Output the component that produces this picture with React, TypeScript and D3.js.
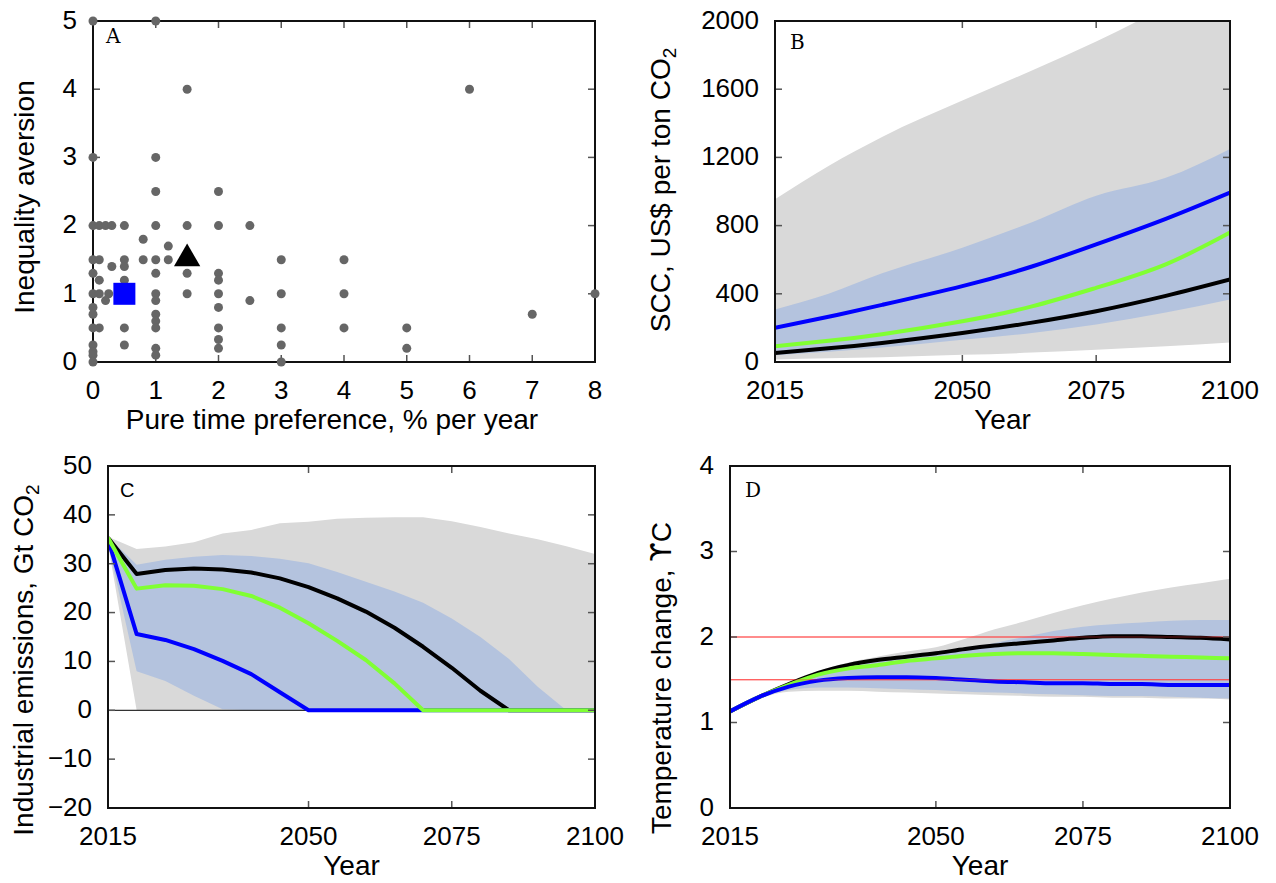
import React from 'react';
import * as d3 from 'd3';

// panel A: survey responses
const timePref = [0, 0, 0, 0, 0, 0, 0, 0, 0, 0, 0, 0, 0,
  0.1, 0.1, 0.1, 0.1, 0.1, 0.2, 0.2, 0.25, 0.3, 0.3,
  0.5, 0.5, 0.5, 0.5, 0.5, 0.5, 0.5, 0.8, 0.8,
  1, 1, 1, 1, 1, 1, 1, 1, 1, 1, 1, 1, 1,
  1.2, 1.2, 1.5, 1.5, 1.5, 1.5,
  2, 2, 2, 2, 2, 2, 2, 2, 2, 2.5, 2.5,
  3, 3, 3, 3, 3, 4, 4, 4, 5, 5, 6, 7, 8];
const ineqAversion = [5, 3, 2, 1.5, 1.3, 1.0, 0.8, 0.7, 0.5, 0.25, 0.15, 0.1, 0,
  2, 1.5, 1.2, 1.0, 0.5, 2, 0.9, 1.0, 2, 1.4,
  2, 1.5, 1.4, 1.2, 1.0, 0.5, 0.25, 1.8, 1.5,
  5, 3, 2.5, 2, 1.5, 1.3, 1.0, 0.9, 0.7, 0.6, 0.5, 0.2, 0.1,
  1.7, 1.5, 4, 2, 1.3, 1.0,
  2.5, 2, 1.3, 1.2, 1.0, 0.8, 0.5, 0.33, 0.2, 2, 0.9,
  1.5, 1.0, 0.5, 0.25, 0, 1.5, 1.0, 0.5, 0.5, 0.2, 4, 0.7, 1.0];
const medianPoint = [1.5, 1.5];
const rightsPoint = [0.5, 1.0];

// panel B: social cost of carbon
const yearsB = [2015, 2025, 2035, 2050, 2063, 2075, 2088, 2100];
const sccGrayHi = [955, 1150, 1320, 1533, 1710, 1880, 2080, 2250];
const sccGrayLo = [15, 22, 28, 42, 55, 72, 92, 115];
const sccBlueHi = [308, 400, 520, 670, 820, 975, 1080, 1250];
const sccBlueLo = [40, 60, 85, 130, 170, 220, 290, 367];
const sccBlue = [200, 265, 335, 445, 560, 690, 840, 994];
const sccGreen = [92, 124, 163, 239, 326, 435, 573, 759];
const sccBlack = [53, 80, 112, 170, 231, 298, 388, 484];

// panel C/D years
const years = [2015, 2020, 2025, 2030, 2035, 2040, 2045, 2050, 2055, 2060, 2065, 2070, 2075, 2080, 2085, 2090, 2095, 2100];

// panel C: industrial emissions
const emBlack = [35.3, 27.9, 28.7, 29.0, 28.8, 28.2, 27.0, 25.2, 22.9, 20.2, 16.9, 13.0, 8.7, 4.0, 0, 0, 0, 0];
const emGreen = [35.3, 24.9, 25.6, 25.5, 24.8, 23.4, 21.0, 17.8, 14.2, 10.3, 5.5, 0, 0, 0, 0, 0, 0, 0];
const emBlue = [35.0, 15.6, 14.4, 12.5, 10.1, 7.4, 3.7, 0, 0, 0, 0, 0, 0, 0, 0, 0, 0, 0];
const emGrayHi = [35.5, 33.0, 33.5, 34.4, 36.2, 36.9, 38.3, 38.6, 39.2, 39.4, 39.5, 39.5, 38.7, 37.5, 36.2, 35.0, 33.6, 32.0];
const emGrayLo = [34, 0, 0, 0, 0, 0, 0, 0, 0, 0, 0, 0, 0, 0, 0, 0, 0, 0];
const emBlueHi = [35.5, 29.8, 30.8, 31.4, 31.8, 31.6, 31.0, 30.1, 28.3, 26.3, 24.3, 22.0, 18.8, 15.0, 10.5, 4.8, 0, 0];
const emBlueLo = [34, 8.0, 6.0, 3.0, 0.2, 0, 0, 0, 0, 0, 0, 0, 0, 0, 0, 0, 0, 0];

// panel D: temperature change
const tBlack = [1.13, 1.30, 1.45, 1.58, 1.67, 1.73, 1.77, 1.81, 1.86, 1.90, 1.93, 1.96, 1.99, 2.01, 2.01, 2.00, 1.99, 1.97];
const tGreen = [1.13, 1.30, 1.44, 1.56, 1.63, 1.67, 1.72, 1.75, 1.78, 1.80, 1.81, 1.81, 1.80, 1.79, 1.78, 1.77, 1.76, 1.75];
const tBlue = [1.13, 1.30, 1.42, 1.49, 1.52, 1.53, 1.53, 1.52, 1.50, 1.48, 1.47, 1.46, 1.46, 1.45, 1.45, 1.44, 1.44, 1.44];
const tGrayHi = [1.13, 1.30, 1.45, 1.60, 1.70, 1.77, 1.83, 1.88, 1.98, 2.09, 2.18, 2.28, 2.37, 2.45, 2.52, 2.58, 2.63, 2.68];
const tGrayLo = [1.13, 1.28, 1.36, 1.37, 1.37, 1.36, 1.35, 1.34, 1.33, 1.32, 1.31, 1.30, 1.30, 1.29, 1.29, 1.28, 1.28, 1.27];
const tBlueHi = [1.13, 1.30, 1.44, 1.57, 1.66, 1.72, 1.76, 1.80, 1.86, 1.93, 2.00, 2.07, 2.12, 2.15, 2.17, 2.19, 2.20, 2.20];
const tBlueLo = [1.13, 1.29, 1.38, 1.41, 1.41, 1.40, 1.39, 1.38, 1.36, 1.35, 1.34, 1.33, 1.32, 1.31, 1.31, 1.30, 1.29, 1.28];
const targets = [2, 1.5];

const yearTicks = [2015, 2050, 2075, 2100];

const FONT = "'Liberation Sans', Arial, Helvetica, sans-serif";
const LETTER = "'DejaVu Serif', serif";
const GRAY = '#d9d9d9';
const BAND = '#b4c3de';
const BLUE = '#0000ff';
const GREEN = '#80ff33';

type Box = { left: number; right: number; top: number; bottom: number };

const Frame = ({ box, x, y, xTicks, yTicks, letter, letterFont, letterPos, xTitle, xTitleX, yTitle, yTitleX, yTitleY }: any) => {
  const tl = 7;
  return (
    <g>
      {xTicks.map((t: number) => (
        <g key={'x' + t}>
          <line x1={x(t)} x2={x(t)} y1={box.bottom} y2={box.bottom - tl} stroke="#555" strokeWidth={1.5} />
          <line x1={x(t)} x2={x(t)} y1={box.top} y2={box.top + tl} stroke="#555" strokeWidth={1.5} />
          <text x={x(t)} y={box.bottom + 37} textAnchor="middle" fontSize={26} fontFamily={FONT}>{t}</text>
        </g>
      ))}
      {yTicks.map((t: number) => (
        <g key={'y' + t}>
          <line x1={box.left} x2={box.left + tl} y1={y(t)} y2={y(t)} stroke="#555" strokeWidth={1.5} />
          <line x1={box.right} x2={box.right - tl} y1={y(t)} y2={y(t)} stroke="#555" strokeWidth={1.5} />
          <text x={box.left - 16} y={y(t)} dy="0.3em" textAnchor="end" fontSize={26} fontFamily={FONT}>
            {t < 0 ? '\u2212' + Math.abs(t) : t}
          </text>
        </g>
      ))}
      <rect x={box.left} y={box.top} width={box.right - box.left} height={box.bottom - box.top}
        fill="none" stroke="#111" strokeWidth={2} />
      <text x={box.left + letterPos[0]} y={box.top + letterPos[1]} fontSize={20} fontFamily={letterFont}>{letter}</text>
      <text x={xTitleX ?? (box.left + box.right) / 2} y={box.bottom + 67} textAnchor="middle" fontSize={28} fontFamily={FONT}>{xTitle}</text>
      <text transform={`translate(${yTitleX},${yTitleY}) rotate(-90)`} textAnchor="middle" fontSize={28} fontFamily={FONT}>{yTitle}</text>
    </g>
  );
};

const bandPath = (xs: number[], lo: number[], hi: number[], x: any, y: any, curve: any = d3.curveMonotoneX) =>
  d3.area<number>().x((_, i) => x(xs[i])).y0((_, i) => y(lo[i])).y1((_, i) => y(hi[i]))
    .curve(curve)(xs) as string;

const linePath = (xs: number[], vs: number[], x: any, y: any, curve: any = d3.curveMonotoneX) =>
  d3.line<number>().x((_, i) => x(xs[i])).y((_, i) => y(vs[i])).curve(curve)(xs) as string;

const clip = (id: string, box: Box) => (
  <clipPath id={id}>
    <rect x={box.left} y={box.top} width={box.right - box.left} height={box.bottom - box.top} />
  </clipPath>
);

const App = () => {
  const boxA: Box = { left: 93, right: 595, top: 21, bottom: 362 };
  const boxB: Box = { left: 775, right: 1230, top: 21, bottom: 362 };
  const boxC: Box = { left: 108, right: 595, top: 466, bottom: 808 };
  const boxD: Box = { left: 730, right: 1230, top: 466, bottom: 808 };

  const xA = d3.scaleLinear().domain([0, 8]).range([boxA.left, boxA.right]);
  const yA = d3.scaleLinear().domain([0, 5]).range([boxA.bottom, boxA.top]);
  const xB = d3.scaleLinear().domain([2015, 2100]).range([boxB.left, boxB.right]);
  const yB = d3.scaleLinear().domain([0, 2000]).range([boxB.bottom, boxB.top]);
  const xC = d3.scaleLinear().domain([2015, 2100]).range([boxC.left, boxC.right]);
  const yC = d3.scaleLinear().domain([-20, 50]).range([boxC.bottom, boxC.top]);
  const xD = d3.scaleLinear().domain([2015, 2100]).range([boxD.left, boxD.right]);
  const yD = d3.scaleLinear().domain([0, 4]).range([boxD.bottom, boxD.top]);

  const tri = d3.symbol().type(d3.symbolTriangle).size(300)() as string;
  const lin = d3.curveLinear;
  const nat = d3.curveNatural;

  return (
    <svg width={1276} height={883} style={{ position: 'absolute', left: 0, top: 0, background: '#fff' }}>
      <defs>
        {clip('cA', boxA)}
        {clip('cB', boxB)}
        {clip('cC', boxC)}
        {clip('cD', boxD)}
      </defs>

      {/* A */}
      <Frame box={boxA} x={xA} y={yA} xTicks={d3.range(0, 9)} yTicks={d3.range(0, 6)} letter="A" letterFont={LETTER}
        letterPos={[13, 22]} xTitle="Pure time preference, % per year" xTitleX={332}
        yTitle="Inequality aversion" yTitleX={34} yTitleY={197} />
      {timePref.map((v, i) => (
        <circle key={i} cx={xA(v)} cy={yA(ineqAversion[i])} r={4.5} fill="#666" />
      ))}
      <rect x={xA(rightsPoint[0]) - 11} y={yA(rightsPoint[1]) - 11} width={22} height={22} fill={BLUE} />
      <path d={tri} transform={`translate(${xA(medianPoint[0])},${yA(medianPoint[1]) - 1})`} fill="#000" />

      {/* B */}
      <g clipPath="url(#cB)">
        <path d={bandPath(yearsB, sccGrayLo, sccGrayHi, xB, yB)} fill={GRAY} />
        <path d={bandPath(yearsB, sccBlueLo, sccBlueHi, xB, yB)} fill={BAND} />
        <path d={linePath(yearsB, sccBlack, xB, yB, nat)} fill="none" stroke="#000" strokeWidth={4} />
        <path d={linePath(yearsB, sccGreen, xB, yB, nat)} fill="none" stroke={GREEN} strokeWidth={4} />
        <path d={linePath(yearsB, sccBlue, xB, yB, nat)} fill="none" stroke={BLUE} strokeWidth={4} />
      </g>
      <Frame box={boxB} x={xB} y={yB} xTicks={yearTicks} yTicks={d3.range(0, 2001, 400)} letter="B" letterFont={LETTER}
        letterPos={[15, 28]} xTitle="Year" yTitleX={670} yTitleY={190}
        yTitle={<>SCC, US$ per ton CO<tspan fontSize={19} dy={6}>2</tspan></>} />

      {/* C */}
      <g clipPath="url(#cC)">
        <path d={bandPath(years, emGrayLo, emGrayHi, xC, yC, lin)} fill={GRAY} />
        <path d={bandPath(years, emBlueLo, emBlueHi, xC, yC, lin)} fill={BAND} />
        <line x1={boxC.left} x2={boxC.right} y1={yC(0)} y2={yC(0)} stroke="#333" strokeWidth={1.2} />
        <path d={linePath(years, emBlack, xC, yC, lin)} fill="none" stroke="#000" strokeWidth={4} strokeLinejoin="round" />
        <path d={linePath(years, emBlue, xC, yC, lin)} fill="none" stroke={BLUE} strokeWidth={4} strokeLinejoin="round" />
        <path d={linePath(years, emGreen, xC, yC, lin)} fill="none" stroke={GREEN} strokeWidth={4} strokeLinejoin="round" />
      </g>
      <Frame box={boxC} x={xC} y={yC} xTicks={yearTicks} yTicks={d3.range(-20, 51, 10)} letter="C" letterFont={FONT}
        letterPos={[12, 31]} xTitle="Year" yTitleX={33} yTitleY={660}
        yTitle={<>Industrial emissions, Gt CO<tspan fontSize={19} dy={6}>2</tspan></>} />

      {/* D */}
      <g clipPath="url(#cD)">
        <path d={bandPath(years, tGrayLo, tGrayHi, xD, yD)} fill={GRAY} />
        <path d={bandPath(years, tBlueLo, tBlueHi, xD, yD)} fill={BAND} />
        {targets.map(t => (
          <line key={t} x1={boxD.left} x2={boxD.right} y1={yD(t)} y2={yD(t)} stroke="#ff5050" strokeWidth={1.2} />
        ))}
        <path d={linePath(years, tBlack, xD, yD)} fill="none" stroke="#000" strokeWidth={4} />
        <path d={linePath(years, tGreen, xD, yD)} fill="none" stroke={GREEN} strokeWidth={4} />
        <path d={linePath(years, tBlue, xD, yD)} fill="none" stroke={BLUE} strokeWidth={4} />
        {targets.map(t => (
          <line key={'o' + t} x1={boxD.left} x2={boxD.right} y1={yD(t)} y2={yD(t)} stroke="#ff3030" strokeWidth={1} strokeOpacity={0.45} />
        ))}
      </g>
      <Frame box={boxD} x={xD} y={yD} xTicks={yearTicks} yTicks={d3.range(0, 5)} letter="D" letterFont={LETTER}
        letterPos={[15, 31]} xTitle="Year" yTitleX={671} yTitleY={678}
        yTitle={<>Temperature change, <tspan fontFamily="'DejaVu Sans', sans-serif">ϒ</tspan>C</>} />
    </svg>
  );
};

export default App;
